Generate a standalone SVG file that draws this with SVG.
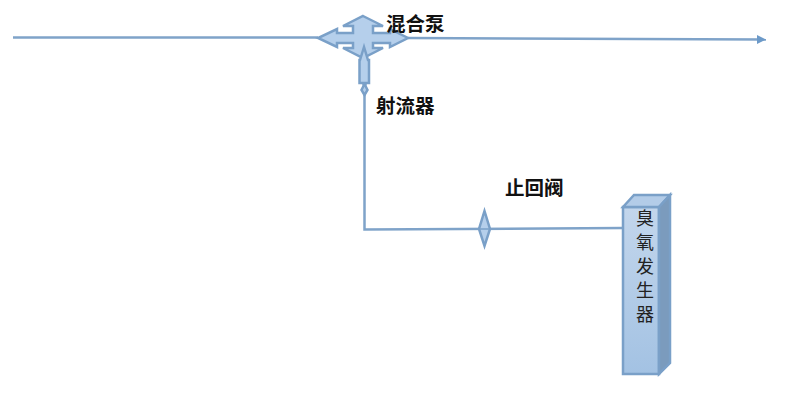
<svg xmlns="http://www.w3.org/2000/svg" width="800" height="403" viewBox="0 0 800 403">
<style>
.ln{fill:none;stroke:#7fa3c9;stroke-width:2.500}
.sh{stroke:#7aa0c8;stroke-width:2.500;stroke-linejoin:miter}
.lb{font-family:"Noto Sans CJK SC","Liberation Sans",sans-serif;font-size:19.500px;font-weight:700;fill:#111}
.gt{font-family:"Noto Sans CJK SC","Liberation Sans",sans-serif;font-size:18px;fill:#222;writing-mode:vertical-rl;letter-spacing:6px}
</style>
<defs>
<linearGradient id="g" x1="0" y1="0" x2="0" y2="1"><stop offset="0" stop-color="#c3d6ec"/><stop offset="1" stop-color="#a3c2e3"/></linearGradient>
<marker id="a" markerUnits="userSpaceOnUse" markerWidth="10" markerHeight="10" refX="9" refY="5" orient="auto"><path d="M0,0.500L9,5L0,9.500Z" fill="#6c9ac9"/></marker>
</defs>
<g id="connectors">
<path class="ln" d="M13,37.500H318"/>
<path class="ln" d="M408,38L766,39.500" marker-end="url(#a)"/>
<path class="ln" d="M364.500,95V229.500L623,228"/>
</g>
<g id="mixing-pump">
<path class="sh" fill="#b5cfeb" d="M363,16L383,26H373V33H390V29L408,38L390,47V43H373V48H383L363,58L343,48H353V43H337V47L318,38L337,29V33H353V26H343Z"/>
<text class="lb" x="386" y="31">混合泵</text>
</g>
<g id="ejector">
<path class="sh" fill="#b5cfeb" stroke-width="1.500" d="M364,47L360,60H359.500V83H363.500V86L361.500,90L364.500,95L367.500,90L365.500,86V83H369V60H368Z"/>
<text class="lb" x="376" y="113">射流器</text>
</g>
<g id="check-valve">
<path class="sh" fill="#b5cfeb" stroke-width="1.500" d="M484.500,211L490,229L484.500,246L479,229Z"/>
<path d="M479,229H490" stroke="#7aa0c8" stroke-width="1.500"/>
<text class="lb" x="505" y="195">止回阀</text>
</g>
<g id="ozone-generator">
<path class="sh" fill="url(#g)" d="M623,207H659V374H623Z"/>
<path class="sh" fill="#b3cce8" d="M623,207L634,195H670L659,207Z"/>
<path class="sh" fill="#7b9bbd" d="M659,207L670,195V363L659,374Z"/>
<text class="gt" x="645" y="209">臭氧发生器</text>
</g>
</svg>
